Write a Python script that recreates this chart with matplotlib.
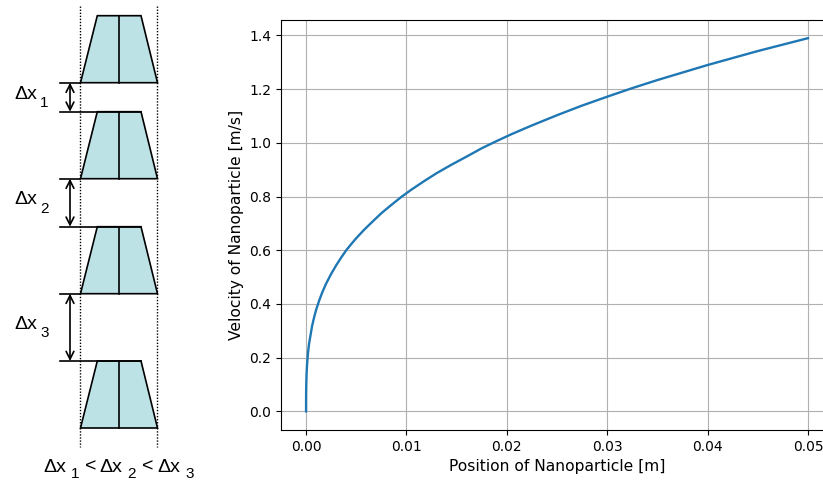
import numpy as np
import matplotlib.pyplot as plt
from matplotlib.patches import Polygon

# Velocidad de la nanopartícula en función de la posición
posicion = [0.0, 0.000005, 0.00002, 0.00005, 0.0001, 0.0002, 0.0003,
            0.0006, 0.0008, 0.001, 0.0013, 0.0016, 0.002, 0.0025, 0.003, 0.0035,
            0.004, 0.0045, 0.005, 0.0058, 0.0066, 0.0075, 0.0085, 0.0095,
            0.0105, 0.0117, 0.013, 0.0145, 0.016, 0.0175, 0.019, 0.0205,
            0.0225, 0.025, 0.0275, 0.03, 0.0325, 0.035, 0.0375, 0.04, 0.0425,
            0.045, 0.0475, 0.05]
velocidad = [0.0, 0.064, 0.102, 0.139, 0.175, 0.221, 0.252,
             0.318, 0.350, 0.378, 0.412, 0.442, 0.476, 0.512, 0.544, 0.573,
             0.600, 0.623, 0.645, 0.677, 0.706, 0.738, 0.769, 0.799,
             0.826, 0.856, 0.887, 0.919, 0.949, 0.980, 1.007, 1.033,
             1.065, 1.103, 1.139, 1.172, 1.204, 1.234, 1.262, 1.290, 1.316,
             1.342, 1.366, 1.390]

# Esquema de la izquierda (en píxeles): parte superior de cada trapecio
tops = [15.7, 111.7, 226.7, 361.0]
subs = ["1", "2", "3"]

fig = plt.figure(figsize=(8.23, 4.83), dpi=100)

# --- esquema ---
dib = fig.add_axes([0, 0, 1, 1])
dib.set_xlim(0, 823)
dib.set_ylim(483, 0)
dib.axis('off')

h = 67.0
xl, xr = 80.5, 157.5
xtl, xtr = 97.3, 141.0
xm = 119.3
for top in tops:
    bot = top + h
    dib.add_patch(Polygon([[xtl, top], [xtr, top], [xr, bot], [xl, bot]],
                          closed=True, facecolor='#bde2e6', edgecolor='black', lw=1.2))
    dib.plot([xm, xm], [top, bot], color='black', lw=1.2)

for x in [xl, xr]:
    dib.plot([x, x], [6, 447], color='black', lw=1, ls=(0, (1, 1.2)))

fam = ['Liberation Sans', 'DejaVu Sans']
for i in range(3):
    y1 = tops[i] + h
    y2 = tops[i + 1]
    dib.plot([60, xl], [y1, y1], color='black', lw=1.2)
    dib.plot([60, xtr], [y2, y2], color='black', lw=1.2)
    dib.annotate('', xy=(70, y1), xytext=(70, y2),
                 arrowprops=dict(arrowstyle='<->', color='black', lw=1.2,
                                 shrinkA=0, shrinkB=0, mutation_scale=14))
    ym = (y1 + y2) / 2
    dib.text(14, ym - 3, "Δx", fontsize=14, family=fam, va='center', ha='left')
    dib.text(40, ym + 6, subs[i], fontsize=11, family=fam, va='center', ha='left')

# texto inferior
partes = [("Δx", 43, 14), ("1", 71, 11), ("<", 85, 14), ("Δx", 99, 14), ("2", 127, 11),
          ("<", 142, 14), ("Δx", 157, 14), ("3", 185, 11)]
for t, x, fs in partes:
    dy = 7 if fs == 11 else 0
    dib.text(x, 467 + dy, t, fontsize=fs, family=fam, va='center', ha='left')

# --- gráfica ---
ax = fig.add_axes([0.3414, 0.1097, 0.6708, 0.8499])
ax.plot(posicion, velocidad, color='C0', lw=1.7)
ax.set_xlabel('Position of Nanoparticle [m]', fontsize=11.2)
ax.set_ylabel('Velocity of Nanoparticle [m/s]', fontsize=11.2)
ax.set_xticks([0.0, 0.01, 0.02, 0.03, 0.04, 0.05])
ax.set_yticks(np.arange(0, 1.41, 0.2))
ax.grid(True)

fig.savefig('out.png', dpi=100)
